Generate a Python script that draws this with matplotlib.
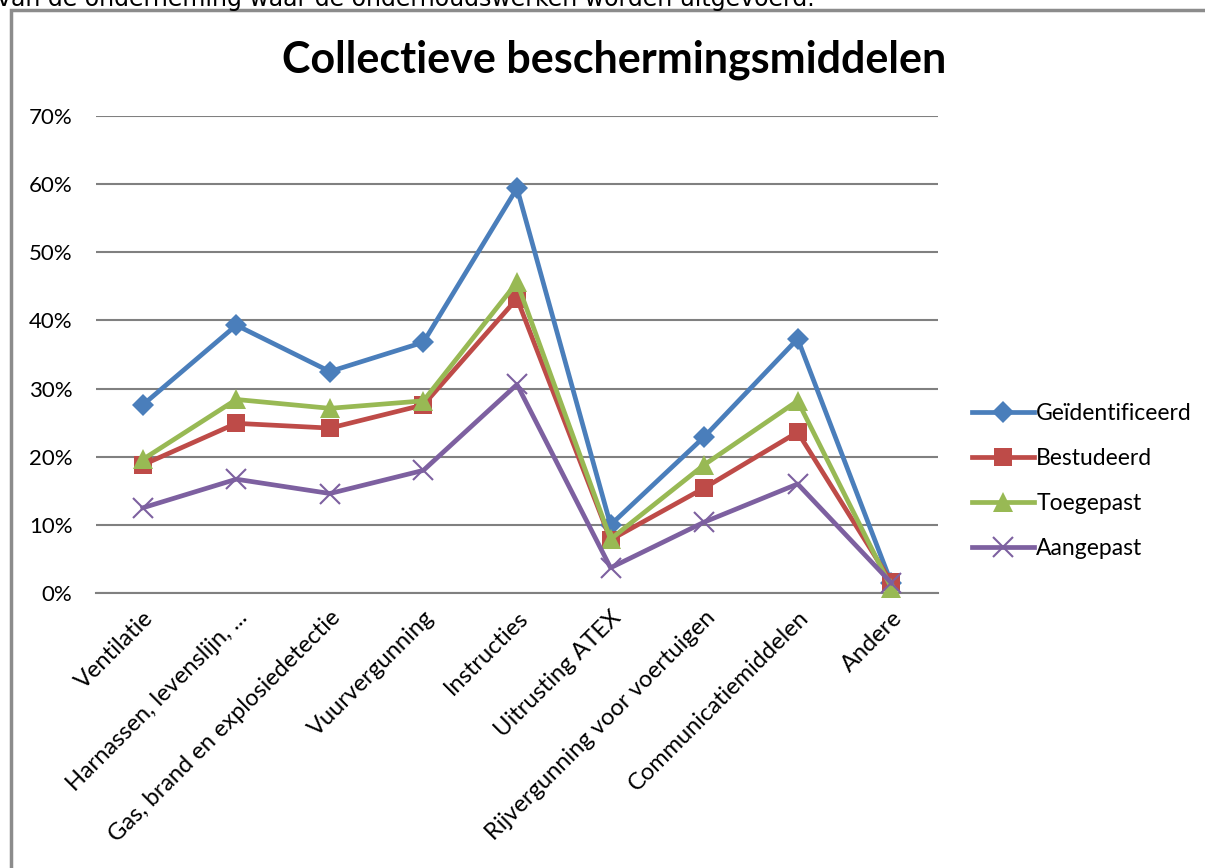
import matplotlib
matplotlib.use('Agg')
from matplotlib import pyplot as plt
from matplotlib.patches import Rectangle
from matplotlib.ticker import PercentFormatter

categories = ['Ventilatie', 'Harnassen, levenslijn, ...', 'Gas, brand en explosiedetectie',
              'Vuurvergunning', 'Instructies', 'Uitrusting ATEX',
              'Rijvergunning voor voertuigen', 'Communicatiemiddelen', 'Andere']
geidentificeerd = [27.6, 39.3, 32.5, 36.8, 59.4, 10.0, 22.9, 37.3, 1.5]
bestudeerd = [18.8, 24.9, 24.2, 27.6, 43.2, 7.8, 15.4, 23.6, 1.6]
toegepast = [19.6, 28.4, 27.1, 28.2, 45.6, 7.9, 18.8, 28.2, 0.8]
aangepast = [12.5, 16.7, 14.6, 18.0, 30.6, 3.7, 10.4, 16.0, 1.5]
series_names = ['Geïdentificeerd', 'Bestudeerd', 'Toegepast', 'Aangepast']

colors = ['#4A7EBB', '#BE4B48', '#98B954', '#7D60A0']
markers = ['D', 's', '^', 'x']
msizes = [11, 13, 14, 14]

plt.rcParams['font.family'] = ['Lato', 'DejaVu Sans']

fig = plt.figure(figsize=(12.05, 8.68), dpi=100)
ax = fig.add_axes([96 / 1205, 1 - 593 / 868, (938 - 96) / 1205, (593 - 116) / 868])

x = range(len(categories))
for vals, name, c, m, ms in zip([geidentificeerd, bestudeerd, toegepast, aangepast],
                                series_names, colors, markers, msizes):
    ax.plot(x, vals, color=c, lw=3.4, marker=m, markersize=ms, label=name,
            markeredgewidth=1.5 if m == 'x' else 0, markeredgecolor=c, clip_on=False, zorder=3)

ax.set_xlim(-0.5, len(categories) - 0.5)
ax.set_ylim(0, 70)
ax.set_yticks(range(0, 71, 10))
ax.yaxis.set_major_formatter(PercentFormatter(decimals=0))
ax.grid(axis='y', color='#808080', lw=1.5)
ax.set_axisbelow(True)
for s in ['top', 'right', 'left']:
    ax.spines[s].set_visible(False)
ax.spines['bottom'].set_color('#808080')
ax.spines['bottom'].set_linewidth(1.5)
ax.tick_params(axis='y', length=0, pad=17, labelsize=16)
ax.tick_params(axis='x', length=0, pad=10, labelsize=17)
ax.set_xticks(list(x))
ax.set_xticklabels(categories, rotation=45, ha='right', rotation_mode='anchor')

leg = ax.legend(loc='center left', bbox_to_anchor=(1.016, 0.235), frameon=False,
                fontsize=16.5, handlelength=2.7, handletextpad=0.1, labelspacing=1.05)

fig.text(614 / 1205, 1 - 60 / 868, 'Collectieve beschermingsmiddelen', ha='center', va='center',
         fontsize=31, fontweight='bold')

# cut-off document text above the chart
fig.text(-3 / 1205, 1 - 6 / 868, 'van de onderneming waar de onderhoudswerken worden uitgevoerd.',
         ha='left', va='baseline', fontsize=17, family='DejaVu Sans')

# chart area border
fig.patches.append(Rectangle((11 / 1205, -0.1), 1.2, 1.1 - 10 / 868, transform=fig.transFigure,
                             fill=False, edgecolor='#8C8C8C', lw=2.5, zorder=0))

fig.savefig('out.png', dpi=100)
